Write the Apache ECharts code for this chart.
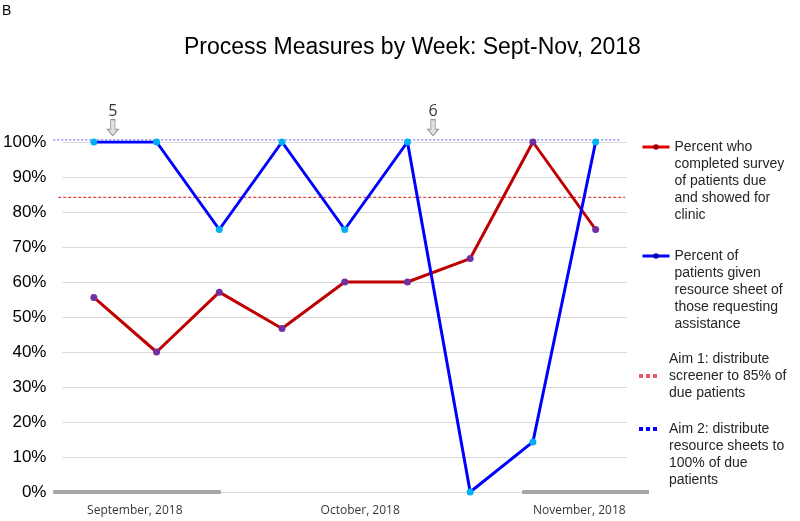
<!DOCTYPE html>
<html><head><meta charset="utf-8">
<script src="https://cdn.jsdelivr.net/npm/echarts@6/dist/echarts.min.js"></script>
<style>html,body{margin:0;padding:0;background:#fff}#c{width:800px;height:521px}</style>
</head><body><div id="c"></div>
<script>
// ---- data ----
const weeks = ['Week 1','Week 2','Week 3','Week 4','Week 5','Week 6','Week 7','Week 8','Week 9'];
const surveyPct = [55.6, 40, 57.1, 46.7, 60, 60, 66.7, 100, 75];
const resourcePct = [100, 100, 75, 100, 75, 100, 0, 14.3, 100];
const aim1Level = 84.2;
const aim2Level = 100.6;
const aim1Span = [-0.56, 8.47];
const aim2Span = [-0.64, 8.39];
const yMin = 0, yMax = 100, yStep = 10;
const monthLabels = ['September, 2018', 'October, 2018', 'November, 2018'];
const monthLabelPos = [0.66, 4.25, 7.74];
const monthBars = [[-0.64, 2.03], [6.83, 8.85]];
const interventionLabels = ['5', '6'];
const interventionPos = [0.31, 5.41];
const interventionLevel = 104.1;
const seriesNames = ['Percent who completed survey', 'Percent of patients given resource sheet', 'Aim 1', 'Aim 2'];
const legendTexts = [
  'Percent who\ncompleted survey\nof patients due\nand showed for\nclinic',
  'Percent of\npatients given\nresource sheet of\nthose requesting\nassistance',
  'Aim 1: distribute\nscreener to 85% of\ndue patients',
  'Aim 2: distribute\nresource sheets to\n100% of due\npatients'
];

// ---- layout ----
const W = 800, H = 521;
const G = {left: 62, right: 173, top: 142, bottom: 29};
const OV = {left: 30, right: 130, top: 95, bottom: 5};   // overlay grid (annotations)
const ux = (W - G.left - G.right) / weeks.length;
const uy = (H - G.top - G.bottom) / (yMax - yMin);
const ovXMin = -0.5 - (G.left - OV.left) / ux;
const ovXMax = weeks.length - 0.5 + (G.right - OV.right) / ux;
const ovYMin = yMin - (G.bottom - OV.bottom) / uy;
const ovYMax = yMax + (G.top - OV.top) / uy;

const chart = echarts.init(document.getElementById('c'), null, {renderer: 'canvas'});
const FF = '"Liberation Sans", Arial, sans-serif';
const legendText = {fontSize: 14, fontFamily: FF, color: '#262626', lineHeight: 17};

function mkLegend(i, left, top, blanks, w, h, extra) {
  extra = extra || {};
  const item = {name: seriesNames[i]};
  if (extra.itemStyle) item.itemStyle = extra.itemStyle;
  if (extra.lineStyle) item.lineStyle = extra.lineStyle;
  return {
    data: [item],
    orient: 'vertical', left: left, top: top,
    itemWidth: w, itemHeight: h, selectedMode: false,
    textStyle: Object.assign({}, legendText, extra.pad ? {padding: extra.pad} : {}),
    formatter: () => '\n'.repeat(blanks) + legendTexts[i]
  };
}

const option = {
  animation: false,
  backgroundColor: '#fff',
  title: [
    {text: 'Process Measures by Week: Sept-Nov, 2018', left: 179, top: 31,
     textStyle: {fontSize: 23, fontWeight: 'normal', color: '#000', fontFamily: FF}},
    {text: 'B', left: 2, top: 4, padding: 0,
     textStyle: {fontSize: 14, fontWeight: 'normal', color: '#000', fontFamily: FF}}
  ],
  legend: [
    mkLegend(0, 636, 65.5, 4, 27, 7, {lineStyle: {color: '#e00000', width: 3}, itemStyle: {color: '#a00000'}}),
    mkLegend(1, 636, 174.5, 4, 27, 7, {lineStyle: {color: '#0000ff', width: 3}, itemStyle: {color: '#0000b0'}}),
    mkLegend(2, 632, 342.5, 0, 20, 6, {pad: [6, 0, 0, 5], itemStyle: {opacity: 0},
      lineStyle: {color: '#e05a68', width: 4, type: [4, 3]}}),
    mkLegend(3, 632, 364.5, 3, 20, 6, {pad: [0, 0, 0, 5], itemStyle: {opacity: 0},
      lineStyle: {color: '#0000ff', width: 4, type: [4, 3]}})
  ],
  grid: [
    {left: G.left, right: G.right, top: G.top, bottom: G.bottom, containLabel: false},
    {left: OV.left, right: OV.right, top: OV.top, bottom: OV.bottom, containLabel: false}
  ],
  xAxis: [
    {type: 'category', data: weeks, boundaryGap: true, gridIndex: 0,
     axisLine: {show: false}, axisTick: {show: false}, axisLabel: {show: false}, splitLine: {show: false}},
    {type: 'value', gridIndex: 1, min: ovXMin, max: ovXMax, show: false}
  ],
  yAxis: [
    {type: 'value', gridIndex: 0, min: yMin, max: yMax, interval: yStep,
     axisLine: {show: false}, axisTick: {show: false},
     axisLabel: {formatter: '{value}%', fontSize: 17, fontFamily: FF, color: '#000', margin: 16},
     splitLine: {lineStyle: {color: '#d9d9d9', width: 1}}},
    {type: 'value', gridIndex: 1, min: ovYMin, max: ovYMax, show: false}
  ],
  series: [
    ...monthBars.map((b, k) => ({
      name: 'monthbar' + k, type: 'line', xAxisIndex: 1, yAxisIndex: 1, silent: true,
      symbol: 'none', data: [[b[0], 0], [b[1], 0]], z: 1,
      lineStyle: {color: '#a6a6a6', width: 4}
    })),
    {name: seriesNames[2], type: 'line', xAxisIndex: 1, yAxisIndex: 1, silent: true,
     symbol: 'none', showSymbol: false, color: '#d81818', z: 2,
     data: [[aim1Span[0], aim1Level], [aim1Span[1], aim1Level]],
     lineStyle: {color: '#d81818', width: 1, type: [3, 2]}},
    {name: seriesNames[3], type: 'line', xAxisIndex: 1, yAxisIndex: 1, silent: true,
     symbol: 'none', showSymbol: false, color: '#5a5aff', z: 2,
     data: [[aim2Span[0], aim2Level], [aim2Span[1], aim2Level]],
     lineStyle: {color: '#5a5aff', width: 1, type: [2, 2]}},
    {name: seriesNames[0], type: 'line', data: surveyPct, z: 3,
     symbol: 'circle', symbolSize: 7, color: '#c00000',
     lineStyle: {color: '#c00000', width: 3},
     itemStyle: {color: '#7030a0'}},
    {name: seriesNames[1], type: 'line', data: resourcePct, z: 4,
     symbol: 'circle', symbolSize: 7, color: '#0000ff',
     lineStyle: {color: '#0000ff', width: 3},
     itemStyle: {color: '#00b0f0'}},
    {name: 'months', type: 'scatter', xAxisIndex: 1, yAxisIndex: 1, silent: true,
     symbolSize: 1, itemStyle: {color: 'rgba(0,0,0,0)'},
     data: monthLabels.map((t, k) => ({name: t, value: [monthLabelPos[k], 0]})),
     label: {show: true, position: 'bottom', distance: 12, formatter: '{b}',
       fontSize: 12, fontFamily: '"Open Sans", sans-serif', color: '#000'}},
    {name: 'interventions', type: 'scatter', xAxisIndex: 1, yAxisIndex: 1, silent: true,
     symbol: 'path://M3,0L7,0L7,9L10,9L5,15L0,9L3,9Z', symbolSize: [11, 16],
     itemStyle: {color: '#d9d9d9', borderColor: '#7f7f7f', borderWidth: 1},
     data: interventionLabels.map((t, k) => ({name: t, value: [interventionPos[k], interventionLevel]})),
     label: {show: true, position: 'top', distance: 0, formatter: '{b}',
       fontSize: 16, fontFamily: '"Open Sans", sans-serif', color: '#000'}}
  ]
};
chart.setOption(option);
</script></body></html>
